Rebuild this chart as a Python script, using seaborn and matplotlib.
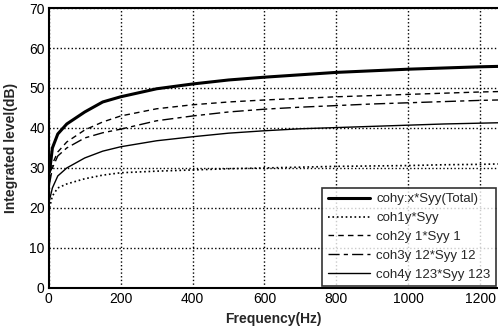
import matplotlib
matplotlib.use("Agg")
import matplotlib.pyplot as plt
import seaborn as sns
import pandas as pd

freq = [2, 10, 25, 50, 100, 150, 200, 300, 400, 500, 600, 700, 800, 900, 1000, 1100, 1200, 1250]
total = [29, 35, 38.5, 41, 44, 46.5, 47.8, 49.8, 51, 52, 52.7, 53.3, 53.9, 54.3, 54.7, 55, 55.3, 55.4]
coh1 = [20, 23, 25, 26, 27.3, 28.2, 28.8, 29.2, 29.5, 29.8, 30, 30.2, 30.4, 30.5, 30.6, 30.8, 30.9, 31]
coh2 = [27, 31, 34, 36.5, 39.5, 41.5, 43, 44.8, 45.8, 46.5, 47, 47.4, 47.8, 48.1, 48.4, 48.7, 49, 49.1]
coh3 = [26, 30, 33, 35, 37.5, 38.8, 39.7, 41.8, 43, 44, 44.7, 45.2, 45.6, 46, 46.3, 46.6, 46.9, 47]
coh4 = [22, 25, 28, 30, 32.5, 34.2, 35.3, 36.8, 37.8, 38.7, 39.3, 39.8, 40.1, 40.4, 40.7, 41, 41.2, 41.3]
labels = ["cohy:x*Syy(Total)", "coh1y*Syy", "coh2y 1*Syy 1", "coh3y 12*Syy 12", "coh4y 123*Syy 123"]
xticks = [0, 200, 400, 600, 800, 1000, 1200]
yticks = [0, 10, 20, 30, 40, 50, 60, 70]

sns.set_style("white")
plt.rcParams['font.family'] = ['Liberation Sans', 'DejaVu Sans']

fig = plt.figure(figsize=(4.98, 3.34), dpi=100)
ax = fig.add_axes([0.098, 0.138, 0.902, 0.838])

series = [total, coh1, coh2, coh3, coh4]
styles = [("-", 2.2), (":", 1.2), ((0, (4, 3)), 1.0), ((0, (8, 3, 3, 3)), 1.0), ("-", 1.0)]
for vals, lab, (ls, lw) in zip(series, labels, styles):
    df = pd.DataFrame({"f": freq, "v": vals})
    sns.lineplot(data=df, x="f", y="v", ax=ax, color="black", linestyle=ls, linewidth=lw, label=lab)

ax.set_xlim(0, 1250)
ax.set_ylim(0, 70)
ax.set_xticks(xticks)
ax.set_yticks(yticks)
ax.grid(True, linestyle=":", color="black", linewidth=1.0)
for s in ["left", "bottom", "top"]:
    ax.spines[s].set_color("black")
    ax.spines[s].set_linewidth(1.5)
ax.spines["right"].set_visible(False)
ax.tick_params(axis="both", labelsize=10, direction="in", length=3, colors="black", pad=3)
ax.set_xlabel("Frequency(Hz)", fontsize=10, fontweight="bold", labelpad=4)
ax.set_ylabel("Integrated level(dB)", fontsize=10, fontweight="bold", labelpad=8)

leg = ax.legend(loc="lower right", fontsize=9.5, frameon=True, fancybox=False,
                edgecolor="black", borderaxespad=0.15, handlelength=3.2, labelspacing=0.5,
                borderpad=0.4, handletextpad=0.5)
leg.get_frame().set_linewidth(1.2)

fig.savefig("out.png", dpi=100)
